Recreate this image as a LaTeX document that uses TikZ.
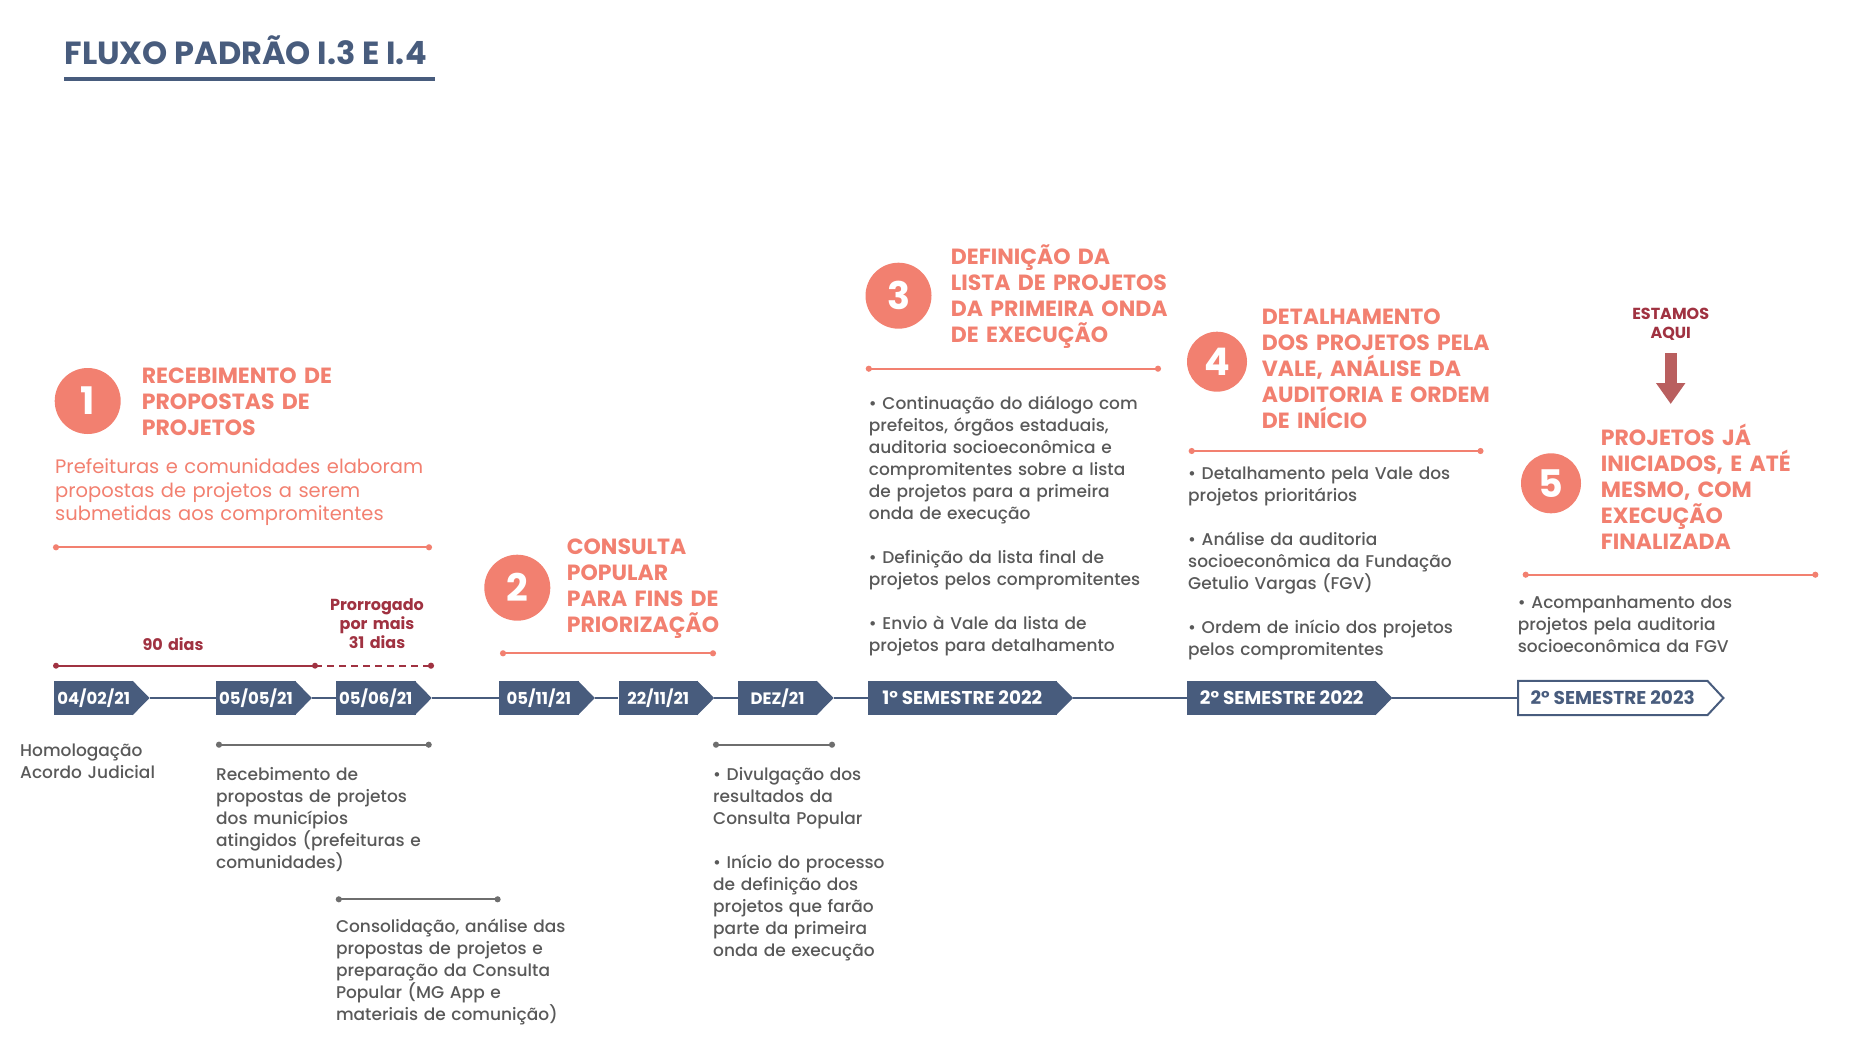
\documentclass[tikz,border=0pt]{standalone}
\usepackage{fontspec}
\setmainfont{Poppins}
\newfontfamily\medfont{Poppins Medium}
\usetikzlibrary{arrows.meta}
\definecolor{slate}{HTML}{485C7D}
\definecolor{coral}{HTML}{F28070}
\definecolor{wine}{HTML}{A03241}
\definecolor{rust}{HTML}{B95F5F}
\definecolor{ink}{HTML}{595959}
\definecolor{rulegray}{HTML}{6E6E6E}
\tikzset{
  datebox/.style={fill=slate,text=white,font=\bfseries\fontsize{16.5}{18}\selectfont,minimum width=79.5pt,minimum height=34pt,inner sep=0pt,anchor=west},
  sembox/.style={datebox,minimum width=189pt,font=\bfseries\fontsize{18.5}{20}\selectfont},
  num/.style={circle,fill=coral,text=white,font=\bfseries\fontsize{38}{40}\selectfont,inner sep=0pt},
  head/.style={anchor=base west,inner sep=0pt,text width=420pt,align=left,text=coral,font=\bfseries\fontsize{22}{26}\selectfont},
  note/.style={anchor=base west,inner sep=0pt,text width=420pt,align=left,text=ink,font=\medfont\fontsize{17}{22}\selectfont},
  tag/.style={anchor=base,inner sep=0pt,text width=120pt,align=center,font=\bfseries\fontsize{16}{18.7}\selectfont},
  bar/.style={line width=2pt,{Circle[length=6pt]}-{Circle[length=6pt]}},
}
\begin{document}
\begin{tikzpicture}[x=1pt,y=-1pt]
\useasboundingbox (0,0) rectangle (1871,1049);
\path
(64,79) coordinate (T1) (435,79) coordinate (T2)
(53,547.3) coordinate (A1) (432,547.3) coordinate (A2)
(500,653.3) coordinate (B1) (716,653.3) coordinate (B2)
(865.8,368.7) coordinate (C1) (1161,368.7) coordinate (C2)
(1188.7,451) coordinate (D1) (1483.5,451) coordinate (D2)
(1522.7,574.7) coordinate (E1) (1818.3,574.7) coordinate (E2)
(56,665.7) coordinate (P1) (315,665.7) coordinate (P2) (434,665.7) coordinate (P3)
(216,744.7) coordinate (G1) (431.7,744.7) coordinate (G2)
(335.8,899.3) coordinate (G3) (500.6,899.3) coordinate (G4)
(713,744.7) coordinate (G5) (835,744.7) coordinate (G6)
(1670.7,353) coordinate (R1) (1670.7,404) coordinate (R2)
;
\node[anchor=base west,inner sep=0pt,text=slate,font=\bfseries\fontsize{32}{34}\selectfont] (title) at (64.3,64) {FLUXO PADRÃO I.3 E I.4};
\draw[slate,line width=3pt] (T1)--(T2);
\draw[bar,coral] (A1)--(A2);
\draw[bar,coral] (B1)--(B2);
\draw[bar,coral] (C1)--(C2);
\draw[bar,coral] (D1)--(D2);
\draw[bar,coral] (E1)--(E2);
\draw[bar,wine,-] (P1)--(P2);
\draw[bar,wine,dash pattern=on 7pt off 5pt,-{Circle[length=6pt]}] (P2)--(P3);
\fill[wine] (P1) circle(3pt) (P2) circle(3pt);
\draw[bar,rulegray] (G1)--(G2);
\draw[bar,rulegray] (G3)--(G4);
\draw[bar,rulegray] (G5)--(G6);
\draw[rust,line width=12pt,-{Triangle[width=28pt,length=21pt]}] (R1)--(R2);

\node[num,minimum size=66pt] (c1) at (87.7,401) {1};
\node[num,minimum size=66pt] (c2) at (517.3,587.7) {2};
\node[num,minimum size=66pt] (c3) at (898.5,295.7) {3};
\node[num,minimum size=60pt] (c4) at (1217,361.7) {4};
\node[num,minimum size=60pt] (c5) at (1551,483.3) {5};

\node[head] (h1) at (141.7,383.3) {RECEBIMENTO DE\\PROPOSTAS DE\\PROJETOS};
\node[head] (h2) at (566.7,554.3) {CONSULTA\\POPULAR\\PARA FINS DE\\PRIORIZAÇÃO};
\node[head] (h3) at (950.7,264) {DEFINIÇÃO DA\\LISTA DE PROJETOS\\DA PRIMEIRA ONDA\\DE EXECUÇÃO};
\node[head] (h4) at (1261.7,324.3) {DETALHAMENTO\\DOS PROJETOS PELA\\VALE, ANÁLISE DA\\AUDITORIA E ORDEM\\DE INÍCIO};
\node[head] (h5) at (1600.7,445.7) {PROJETOS JÁ\\INICIADOS, E ATÉ\\MESMO, COM\\EXECUÇÃO\\FINALIZADA};
\node[note,text=coral,font=\fontsize{19.5}{23.7}\selectfont] (p1) at (55,473.3) {Prefeituras e comunidades elaboram\\propostas de projetos a serem\\submetidas aos compromitentes};

\node[note] (n3) at (868.7,409.3) {• Continuação do diálogo com\\prefeitos, órgãos estaduais,\\auditoria socioeconômica e\\compromitentes sobre a lista\\de projetos para a primeira\\onda de execução\\[22pt]• Definição da lista final de\\projetos pelos compromitentes\\[22pt]• Envio à Vale da lista de\\projetos para detalhamento};
\node[note] (n4) at (1188,479.6) {• Detalhamento pela Vale dos\\projetos prioritários\\[22pt]• Análise da auditoria\\socioeconômica da Fundação\\Getulio Vargas (FGV)\\[22pt]• Ordem de início dos projetos\\pelos compromitentes};
\node[note] (n5) at (1517.7,608.5) {• Acompanhamento dos\\projetos pela auditoria\\socioeconômica da FGV};
\node[note] (n0) at (20,756.7) {Homologação\\Acordo Judicial};
\node[note] (n1) at (216,780.7) {Recebimento de\\propostas de projetos\\dos municípios\\atingidos (prefeituras e\\comunidades)};
\node[note] (n2) at (335.8,932.7) {Consolidação, análise das\\propostas de projetos e\\preparação da Consulta\\Popular (MG App e\\materiais de comunição)};
\node[note] (n6) at (713,780.7) {• Divulgação dos\\resultados da\\Consulta Popular\\[22pt]• Início do processo\\de definição dos\\projetos que farão\\parte da primeira\\onda de execução};

\node[tag,text=wine] (dias) at (173,650.3) {90 dias};
\node[tag,text=wine] (mais) at (377,610.7) {Prorrogado\\por mais\\31 dias};
\node[tag,text=wine] (aqui) at (1670.7,319.3) {ESTAMOS\\AQUI};

\foreach \x/\t [count=\i] in {53.7/{04/02/21},216/{05/05/21},335.8/{05/06/21},499/{05/11/21},618.3/{22/11/21},737.7/{DEZ/21}}{
\node[datebox] (d\i) at (\x,698) {\t};
\fill[slate] ([xshift=-1pt]d\i.north east)--([xshift=16pt]d\i.east)--([xshift=-1pt]d\i.south east)--cycle;
}
\node[sembox] (s1) at (867.6,698) {1° SEMESTRE 2022};
\node[sembox] (s2) at (1187,698) {2° SEMESTRE 2022};
\fill[slate] ([xshift=-1pt]s1.north east)--([xshift=16pt]s1.east)--([xshift=-1pt]s1.south east)--cycle;
\fill[slate] ([xshift=-1pt]s2.north east)--([xshift=16pt]s2.east)--([xshift=-1pt]s2.south east)--cycle;
\node[sembox,fill=none,text=slate] (s3) at (1518,698) {2° SEMESTRE 2023};
\draw[slate,line width=2pt] (s3.north west)--(s3.north east)--([xshift=16pt]s3.east)--(s3.south east)--(s3.south west)--cycle;
\foreach \a/\b in {d1/d2,d2/d3,d3/d4,d4/d5,d5/d6,d6/s1,s1/s2,s2/s3}
\draw[slate,line width=2.5pt] ([xshift=16pt]\a.east)--(\b.west);
\end{tikzpicture}
\end{document}
